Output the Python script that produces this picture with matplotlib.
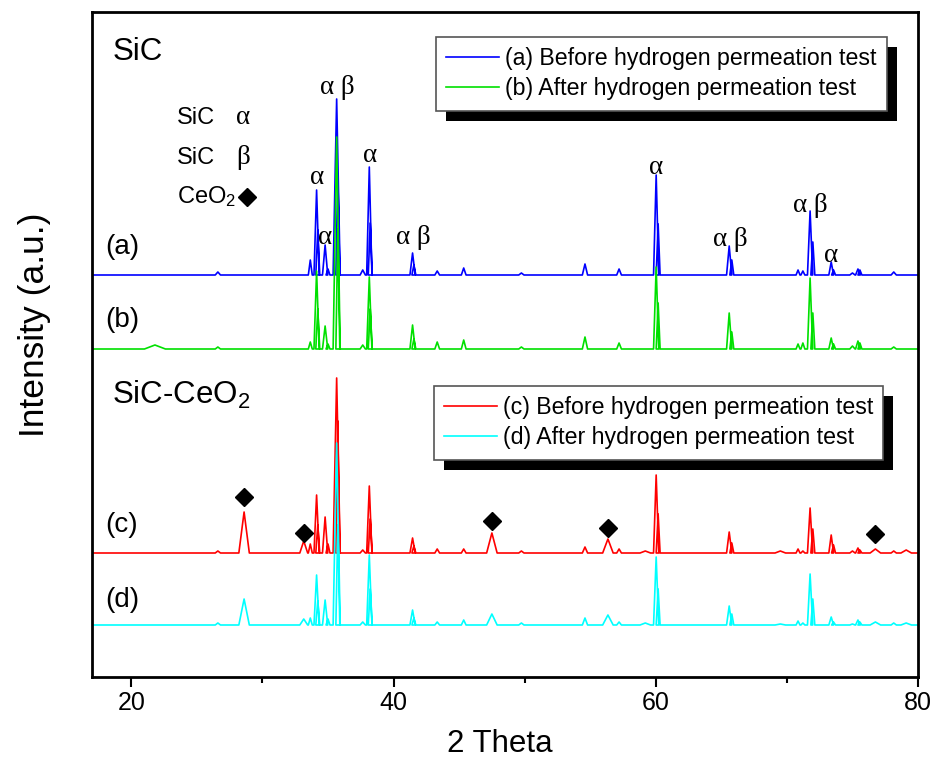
import matplotlib
matplotlib.use("Agg")
import matplotlib.pyplot as plt
from matplotlib.patches import Rectangle

plt.rcParams['font.family'] = ['Liberation Sans', 'DejaVu Sans']
plt.rcParams['mathtext.fontset'] = 'custom'
plt.rcParams['mathtext.rm'] = 'Liberation Sans'
plt.rcParams['mathtext.default'] = 'regular'

# peak positions (2 theta) and half width of each peak at its foot
peak_pos = [21.8, 26.6, 28.6, 33.15, 33.65, 34.13, 34.22, 34.78, 35.0, 35.66,
            35.75, 37.65, 38.15, 38.22, 41.45, 41.55, 43.33, 45.35, 47.5, 49.75,
            54.6, 56.35, 57.2, 59.2, 60.03, 60.18, 65.6, 65.8, 69.5, 70.85,
            71.22, 71.77, 71.98, 73.38, 73.56, 75.0, 75.42, 75.57, 76.75, 78.15,
            79.1]
peak_hw = [0.8, 0.2, 0.4, 0.3, 0.15, 0.2, 0.15, 0.2, 0.15, 0.27,
           0.15, 0.2, 0.2, 0.15, 0.2, 0.15, 0.18, 0.18, 0.4, 0.2,
           0.2, 0.4, 0.18, 0.4, 0.2, 0.15, 0.2, 0.15, 0.4, 0.15,
           0.15, 0.2, 0.15, 0.18, 0.15, 0.2, 0.18, 0.15, 0.4, 0.2,
           0.4]

# peak heights (a.u.) of each sample
h_a = [0, 3, 0, 0, 15, 85, 45, 30, 6, 176,
       100, 5, 108, 52, 22, 10, 4, 7, 0, 2,
       11, 0, 6, 0, 100, 51, 29, 15, 0, 5,
       4, 64, 33, 13, 5, 2, 6, 5, 0, 3,
       0]
h_b = [4, 2, 0, 0, 7, 78, 40, 23, 5, 212,
       120, 4, 72, 40, 24, 10, 7, 9, 0, 2,
       12, 0, 6, 0, 82, 46, 36, 17, 0, 5,
       6, 71, 36, 11, 5, 3, 8, 6, 0, 2,
       0]
h_c = [0, 2, 41, 12, 9, 58, 28, 36, 9, 175,
       132, 3, 67, 34, 15, 7, 4, 4, 20, 2,
       6, 14, 4, 2, 78, 39, 21, 10, 2, 4,
       2, 45, 24, 18, 8, 2, 5, 3, 4, 2,
       3]
h_d = [0, 2, 26, 6, 7, 50, 24, 25, 6, 182,
       100, 3, 70, 36, 15, 7, 3, 5, 11, 2,
       7, 10, 3, 2, 68, 36, 19, 11, 1, 4,
       2, 51, 26, 8, 3, 1, 5, 3, 3, 2,
       2]

# vertical offset of each pattern
base_a, base_b, base_c, base_d = 402, 328, 124, 52

# phase marks
lab_x = [34.13, 34.8, 35.68, 38.22, 41.5, 60.03, 65.7, 71.77, 73.4]
lab_y = [500, 439, 589, 522, 440, 510, 437, 472, 422]
lab_txt = ['α', 'α', 'α β', 'α', 'α β', 'α', 'α β', 'α β', 'α']
ceo2_x = [28.6, 33.15, 47.5, 56.35, 76.75]
ceo2_y = [180, 144, 156, 149, 143]


def pattern(base, heights):
    xs, ys = [17], [base]
    for p, w, h in zip(peak_pos, peak_hw, heights):
        if h > 0:
            xs += [p - w, p, p + w]
            ys += [base, base + h, base]
    xs.append(80)
    ys.append(base)
    return xs, ys


fig = plt.figure(figsize=(9.35, 7.58), dpi=100)
ax = fig.add_axes([92 / 935, 1 - 677 / 758, 826 / 935, 665 / 758])

xa, ya = pattern(base_a, h_a)
xb, yb = pattern(base_b, h_b)
xc, yc = pattern(base_c, h_c)
xd, yd = pattern(base_d, h_d)
la, = ax.plot(xa, ya, color='#0000ff', lw=1.2, label='(a) Before hydrogen permeation test')
lb, = ax.plot(xb, yb, color='#00e000', lw=1.2, label='(b) After hydrogen permeation test')
lc, = ax.plot(xc, yc, color='#ff0000', lw=1.2, label='(c) Before hydrogen permeation test')
ld, = ax.plot(xd, yd, color='#00ffff', lw=1.2, label='(d) After hydrogen permeation test')

ax.set_xlim(17, 80)
ax.set_ylim(0, 665)
ax.set_yticks([])
ax.set_xticks([20, 40, 60, 80])
ax.set_xticks([30, 50, 70], minor=True)
ax.tick_params(axis='x', which='major', direction='out', length=7, width=1.5,
               labelsize=18, pad=3)
ax.tick_params(axis='x', which='minor', direction='out', length=4, width=1.5)
for s in ax.spines.values():
    s.set_linewidth(2)

ax.set_xlabel('2 Theta', fontsize=22.5)
ax.xaxis.set_label_coords(0.494, -0.078)
ax.set_ylabel('Intensity (a.u.)', fontsize=25.5)
ax.yaxis.set_label_coords(-0.05, 0.529)

for x, y, t in zip(lab_x, lab_y, lab_txt):
    ax.text(x, y, t, family='Liberation Serif', fontsize=19.5, ha='center', va='center')
ax.plot(ceo2_x, ceo2_y, 'D', color='black', ms=9)

# sample names
ax.text(18.6, 625, 'SiC', fontsize=22.5, va='center')
ax.text(18.5, 282, 'SiC-CeO$_2$', fontsize=22.5, va='center')
for y, t in zip([430, 357, 152, 77], ['(a)', '(b)', '(c)', '(d)']):
    ax.text(18.0, y, t, fontsize=20, va='center')

# key for the phase marks
ax.text(23.46, 559, 'SiC', fontsize=17, va='center')
ax.text(28.55, 559, 'α', family='Liberation Serif', fontsize=19.5, ha='center', va='center')
ax.text(23.46, 519, 'SiC', fontsize=17, va='center')
ax.text(28.55, 519, 'β', family='Liberation Serif', fontsize=19.5, ha='center', va='center')
ax.text(23.46, 480, 'CeO$_2$', fontsize=17, va='center')
ax.plot([28.8], [480], 'D', color='black', ms=9)

leg_kw = dict(loc='upper left', borderaxespad=0, fontsize=16.7, fancybox=False,
              framealpha=1, edgecolor='#555555', handlelength=2.25,
              handletextpad=0.26, labelspacing=0.3, borderpad=0.45)
leg1 = ax.legend(handles=[la, lb], bbox_to_anchor=(344 / 826, 640 / 665), **leg_kw)
ax.add_artist(leg1)
leg2 = ax.legend(handles=[lc, ld], bbox_to_anchor=(342 / 826, 291 / 665), **leg_kw)
for leg in (leg1, leg2):
    leg.get_frame().set_linewidth(1.2)

fig.canvas.draw()
inv = ax.transAxes.inverted()
for leg in (leg1, leg2):
    bb = leg.get_window_extent()
    (x0, y0), (x1, y1) = inv.transform([[bb.x0 + 10, bb.y0 - 10], [bb.x1 + 10, bb.y1 - 10]])
    ax.add_patch(Rectangle((x0, y0), x1 - x0, y1 - y0, transform=ax.transAxes,
                           facecolor='black', edgecolor='none', zorder=4.5, clip_on=False))

fig.savefig('out.png', dpi=100)
